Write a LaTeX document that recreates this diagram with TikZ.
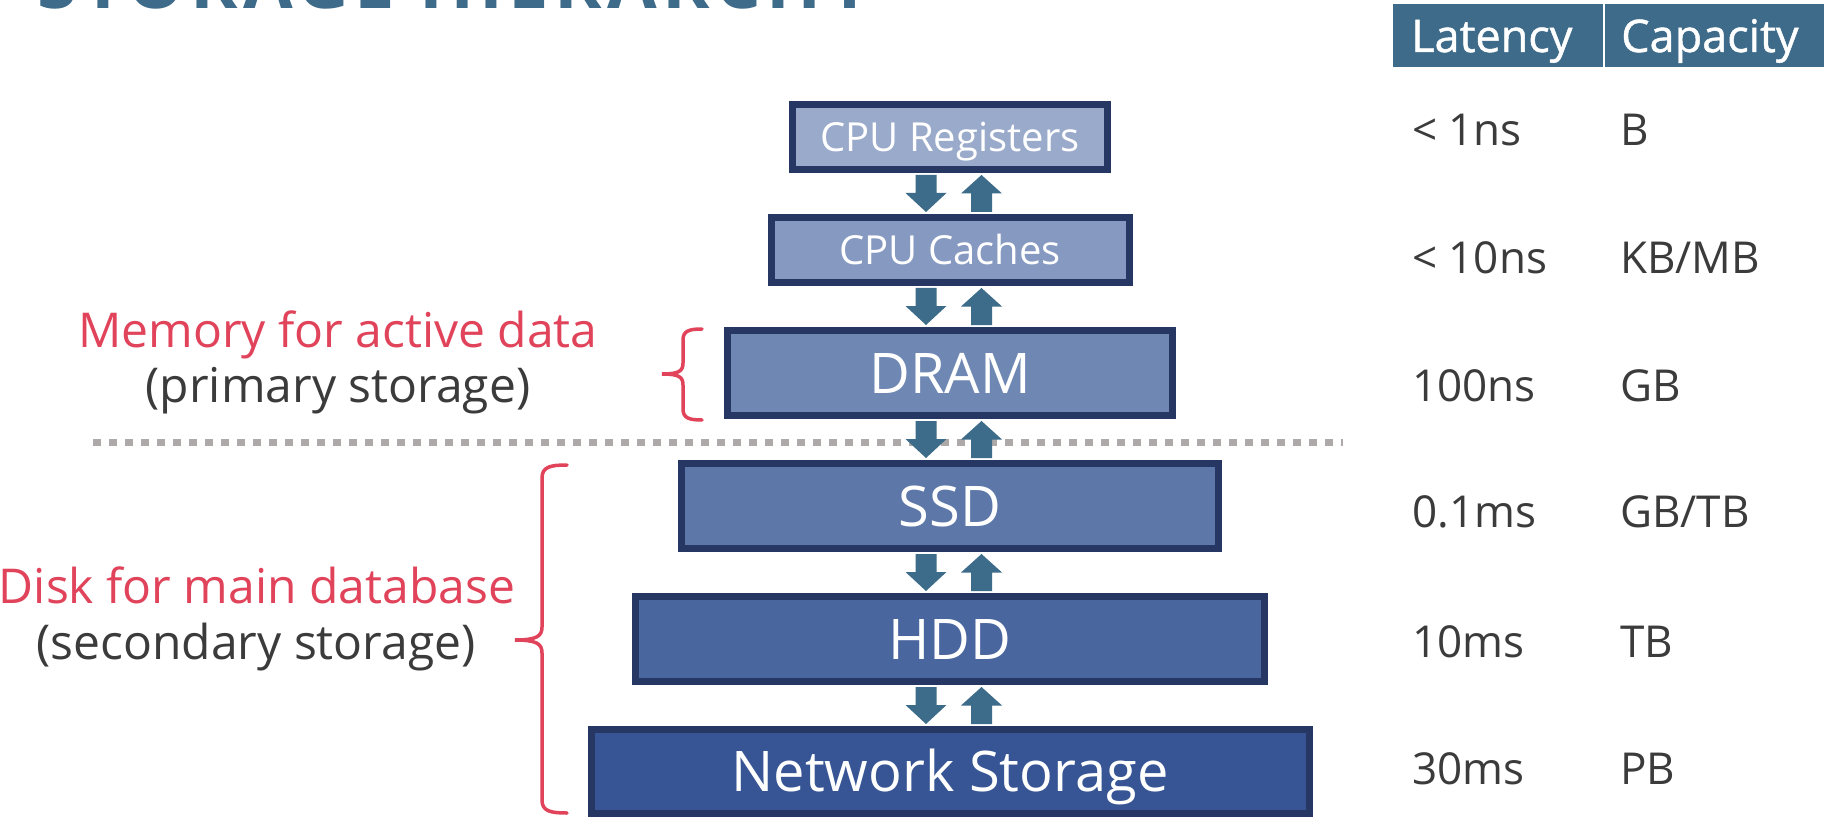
\documentclass[tikz,border=0pt]{standalone}
\usepackage{fontspec}
\setmainfont{Open Sans}
\newfontfamily\headfont[FakeBold=1]{Open Sans}
\newfontfamily\titlefont[LetterSpace=7.5]{Open Sans}
\usetikzlibrary{calc}
\definecolor{titlec}{HTML}{3E6B89}
\definecolor{arrc}{HTML}{3D6B8A}
\definecolor{boxborder}{HTML}{253762}
\definecolor{fa}{HTML}{9AAACB}
\definecolor{fb}{HTML}{8699C1}
\definecolor{fc}{HTML}{6F87B3}
\definecolor{fd}{HTML}{5D77A8}
\definecolor{fe}{HTML}{4A669F}
\definecolor{ff}{HTML}{375594}
\definecolor{redc}{HTML}{E0435A}
\definecolor{darkc}{HTML}{3B3B3B}
\definecolor{dotc}{HTML}{ADA9A8}
\tikzset{
  levelbox/.style={draw=boxborder, line width=7pt, inner sep=0pt, text=white},
  smalltext/.style={font=\fontsize{40}{48}\selectfont, text height=28.5pt, text depth=0pt},
  bigtext/.style={font=\fontsize{56}{66}\selectfont, text height=40pt, text depth=0pt},
  bracec/.style={draw=redc, line width=3.5pt, line cap=round},
  dotline/.style={draw=dotc, line width=7pt, dash pattern=on 8pt off 8pt},
  lbl/.style={anchor=base, inner sep=0pt, font=\fontsize{48}{56}\selectfont},
  cell/.style={anchor=base west, inner sep=0pt, text=darkc, font=\fontsize{44}{52}\selectfont},
  hcell/.style={anchor=base west, inner sep=0pt, text=white, font=\headfont\fontsize{45}{52}\selectfont},
  downarr/.pic={\fill[arrc] (-10.5,-18.5) -- (10.5,-18.5) -- (10.5,-0.5) -- (20.5,-0.5) -- (0,18.5) -- (-20.5,-0.5) -- (-10.5,-0.5) -- cycle;},
  uparr/.pic={\fill[arrc] (-10.5,18.5) -- (10.5,18.5) -- (10.5,0) -- (20.5,0) -- (0,-18.5) -- (-20.5,0) -- (-10.5,0) -- cycle;}
}
\begin{document}
\begin{tikzpicture}[x=1pt,y=-1pt]
\useasboundingbox (0,0) rectangle (1824,829);
\clip (0,0) rectangle (1824,829);
\fill[white] (0,0) rectangle (1824,829);

% title (cut off at the top)
\node[anchor=base west, inner sep=0pt, text=titlec, font=\titlefont\bfseries\fontsize{72}{80}\selectfont] (title) at (37,8.6) {STORAGE HIERARCHY};

% dotted separator
\coordinate (dl) at (93,442);
\coordinate (dr) at (1343,442);
\draw[dotline] (dl) -- (dr);

% levels
\node[levelbox, smalltext, fill=fa, minimum width=315pt, minimum height=65pt] (reg) at (950,137) {CPU Registers};
\node[levelbox, smalltext, fill=fb, minimum width=358pt, minimum height=65pt] (cac) at (950,250) {CPU Caches};
\node[levelbox, bigtext, fill=fc, minimum width=445pt, minimum height=85pt] (dram) at (950,373) {DRAM};
\node[levelbox, bigtext, fill=fd, minimum width=537pt, minimum height=85pt] (ssd) at (950,506) {SSD};
\node[levelbox, bigtext, fill=fe, minimum width=629pt, minimum height=85pt] (hdd) at (950,639) {HDD};
\node[levelbox, bigtext, fill=ff, minimum width=718pt, minimum height=84pt] (net) at (950,771.5) {Network Storage};

% arrows
\foreach \a/\b in {reg/cac, cac/dram, dram/ssd, ssd/hdd, hdd/net}{
  \pic at ($(\a.south)!0.5!(\b.north)+(-24,0)$) {downarr};
  \pic at ($(\a.south)!0.5!(\b.north)+(31.5,0)$) {uparr};
}

% braces
\draw[bracec] (702,329) .. controls (689,329) and (683,331) .. (683,340) -- (683,363)
  .. controls (683,371) and (679,374) .. (662,374)
  .. controls (679,374) and (683,377) .. (683,385) -- (683,409)
  .. controls (683,418) and (689,420) .. (702,420);
\draw[bracec] (567,465) .. controls (550,465) and (542,467) .. (542,478) -- (542,627)
  .. controls (542,636) and (537,640) .. (515,640)
  .. controls (537,640) and (542,644) .. (542,653) -- (542,800)
  .. controls (542,811) and (550,813) .. (567,813);

% side labels
\node[lbl, text=redc] (mem) at (338,347) {Memory for active data};
\node[lbl, text=darkc] (prim) at (338,402) {(primary storage)};
\node[lbl, text=redc] (disk) at (257,603) {Disk for main database};
\node[lbl, text=darkc] (sec) at (256,659) {(secondary storage)};

% table header
\fill[titlec] (1393,4) rectangle (1830,67);
\coordinate (sept) at (1604,4);
\coordinate (sepb) at (1604,67);
\draw[white, line width=2.5pt] (sept) -- (sepb);
\node[hcell] (hlat) at (1411,52) {Latency};
\node[hcell] (hcap) at (1621,52) {Capacity};

% table rows
\node[cell] (l1) at (1412,146) {< 1ns};
\node[cell] (c1) at (1620,146) {B};
\node[cell] (l2) at (1412,273) {< 10ns};
\node[cell] (c2) at (1620,273) {KB/MB};
\node[cell] (l3) at (1412,401) {100ns};
\node[cell] (c3) at (1620,401) {GB};
\node[cell] (l4) at (1412,527) {0.1ms};
\node[cell] (c4) at (1620,527) {GB/TB};
\node[cell] (l5) at (1412,657) {10ms};
\node[cell] (c5) at (1620,657) {TB};
\node[cell] (l6) at (1412,784) {30ms};
\node[cell] (c6) at (1620,784) {PB};
\end{tikzpicture}
\end{document}
